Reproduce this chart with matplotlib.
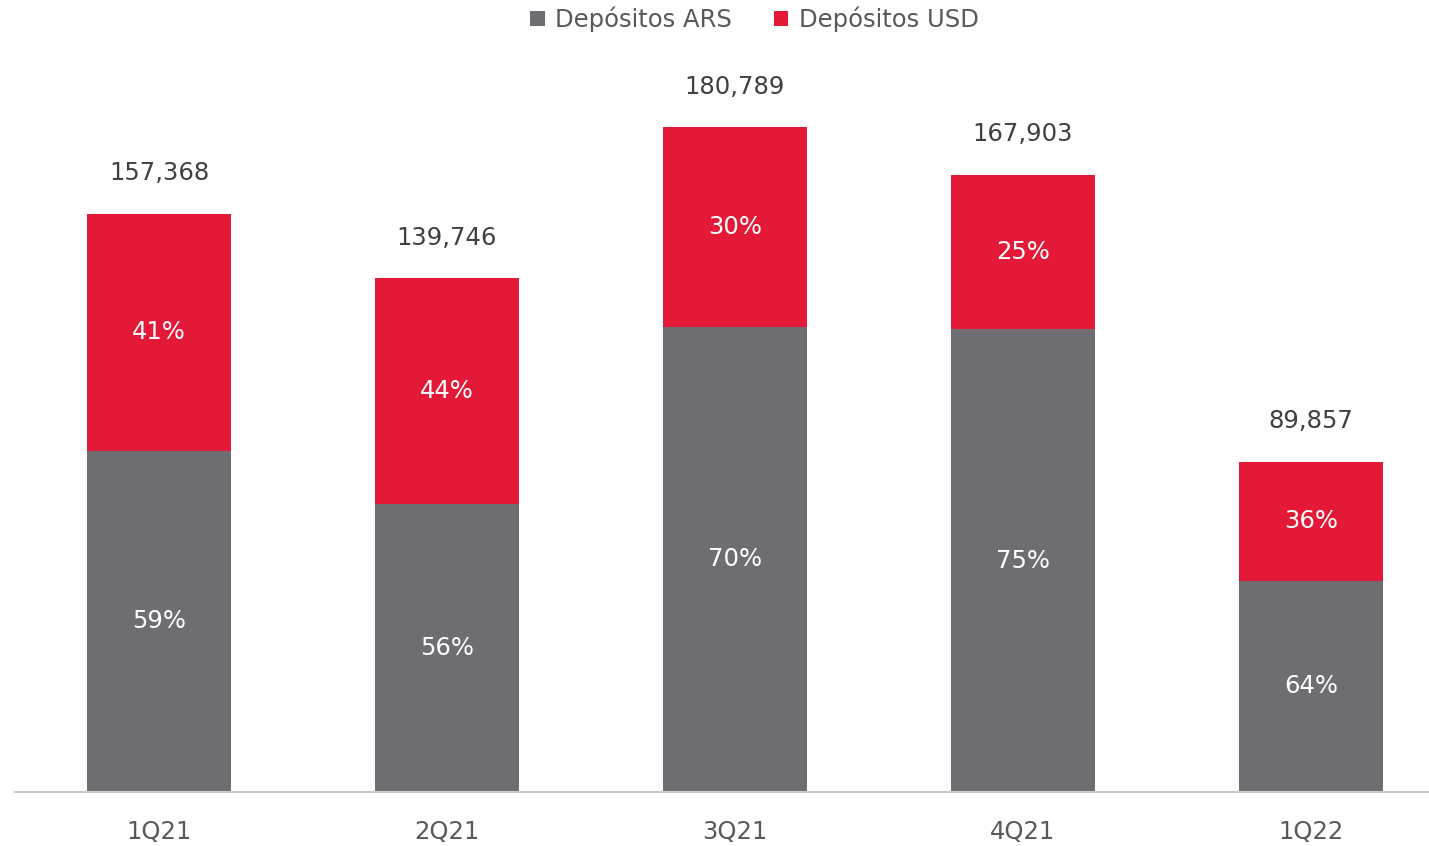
import numpy as np
import matplotlib.pyplot as plt

plt.rcParams['font.family'] = ['DejaVu Sans']

# datos
trimestres = ['1Q21', '2Q21', '3Q21', '4Q21', '1Q22']
totales = [157368, 139746, 180789, 167903, 89857]
pct_ars = [59, 56, 70, 75, 64]
pct_usd = [41, 44, 30, 25, 36]

GRIS = '#6e6d72'
ROJO = '#e31937'


def main():
    fig = plt.figure(figsize=(14.29, 8.46), dpi=100)
    ax = fig.add_axes([15 / 1429, 54 / 846, 1 - 15 / 1429, 752 / 846])

    x = np.arange(len(trimestres))
    total = np.array(totales, dtype=float)
    ars = total * np.array(pct_ars) / 100
    usd = total - ars

    b1 = ax.bar(x, ars, width=0.5, color=GRIS, label='Depósitos ARS')
    b2 = ax.bar(x, usd, bottom=ars, width=0.5, color=ROJO, label='Depósitos USD')

    for i in range(len(x)):
        ax.text(x[i], ars[i] / 2, f'{pct_ars[i]}%', ha='center', va='center',
                color='white', fontsize=17.5)
        ax.text(x[i], ars[i] + usd[i] / 2, f'{pct_usd[i]}%', ha='center', va='center',
                color='white', fontsize=17.5)
        ax.text(x[i], total[i] + 7800, f'{totales[i]:,}', ha='center', va='bottom',
                color='#404040', fontsize=17.5)

    ax.set_xlim(-0.5, 4.41)
    ax.set_ylim(0, 204570)
    ax.set_xticks(x)
    ax.set_xticklabels(trimestres, fontsize=17.5, color='#595959')
    ax.tick_params(axis='x', length=0, pad=20)
    ax.set_yticks([])
    for s in ['top', 'right', 'left']:
        ax.spines[s].set_visible(False)
    ax.spines['bottom'].set_color('#c8c8c8')
    ax.spines['bottom'].set_linewidth(1.5)

    leg = fig.legend(handles=[b1, b2], loc='upper center', bbox_to_anchor=(0.528, 1.018),
                     ncol=2, frameon=False, fontsize=17.5, handlelength=0.6, handleheight=0.6,
                     handletextpad=0.45, columnspacing=1.7)
    for t in leg.get_texts():
        t.set_color('#595959')

    plt.savefig('out.png', dpi=100)


if __name__ == "__main__":
    main()
